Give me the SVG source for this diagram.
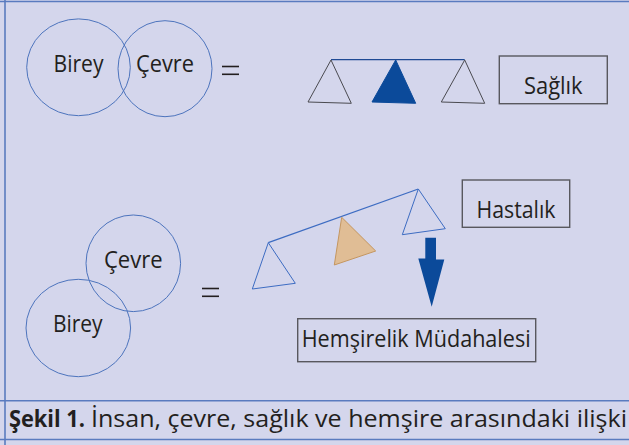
<svg xmlns="http://www.w3.org/2000/svg" width="629" height="445" viewBox="0 0 629 445">
<style>
.circ{fill:none;stroke:#4d74bd;stroke-width:1}
.lbl{font-family:"Open Sans","Liberation Sans",Arial,sans-serif;font-size:23px;fill:#231f20}
.box{fill:none;stroke:#58585e;stroke-width:1.4}
.pan{fill:none;stroke:#4a4a50;stroke-width:1}
.pan2{fill:none;stroke:#3d6cc2;stroke-width:1}
.eq{stroke:#231f20;stroke-width:1.6}
.frame{stroke:#5a7bbf;stroke-width:1.6;fill:none}
</style>
<rect x="0" y="0" width="629" height="445" fill="#d4d6ec"/>
<g id="frame">
<line class="frame" x1="0" y1="1.5" x2="629" y2="1.5" stroke="#3a5ea8"/>
<line class="frame" x1="5" y1="0" x2="5" y2="445"/>
<line class="frame" x1="0" y1="400.7" x2="629" y2="400.7"/>
<line class="frame" x1="0" y1="439.5" x2="629" y2="439.5"/>
</g>
<g id="top-birey">
<ellipse class="circ" cx="78.5" cy="67.3" rx="51.8" ry="48.4"/>
<text class="lbl" x="78.5" y="72" text-anchor="middle" textLength="50" lengthAdjust="spacingAndGlyphs">Birey</text>
</g>
<g id="top-cevre">
<ellipse class="circ" cx="165" cy="68.7" rx="47" ry="48"/>
<text class="lbl" x="165" y="72" text-anchor="middle" textLength="58" lengthAdjust="spacingAndGlyphs">Çevre</text>
</g>
<g id="top-equals">
<line class="eq" x1="222" y1="66.5" x2="239" y2="66.5"/>
<line class="eq" x1="222" y1="74.3" x2="239" y2="74.3"/>
</g>
<g id="balanced-scale">
<line x1="331" y1="59.7" x2="464.7" y2="59.7" stroke="#1f4a94" stroke-width="1.3"/>
<polygon class="pan" points="331,60 308,102 351.3,103.3"/>
<polygon points="395.7,60 372,102 415.7,103.3" fill="#0b4a9a" stroke="#0b4a9a" stroke-width="1"/>
<polygon class="pan" points="464.7,60 441.3,102 484.7,103.3"/>
</g>
<g id="saglik">
<rect class="box" x="499.3" y="56" width="108" height="47.7"/>
<text class="lbl" x="553.3" y="94.3" text-anchor="middle" textLength="58.7" lengthAdjust="spacingAndGlyphs">Sağlık</text>
</g>
<g id="bottom-cevre">
<ellipse class="circ" cx="133.3" cy="263.3" rx="47.3" ry="48.3"/>
<text class="lbl" x="133.3" y="268.3" text-anchor="middle" textLength="58.7" lengthAdjust="spacingAndGlyphs">Çevre</text>
</g>
<g id="bottom-birey">
<ellipse class="circ" cx="78.3" cy="328" rx="52.3" ry="48.7"/>
<text class="lbl" x="77.8" y="331.7" text-anchor="middle" textLength="49.7" lengthAdjust="spacingAndGlyphs">Birey</text>
</g>
<g id="bottom-equals">
<line class="eq" x1="202" y1="288.5" x2="219" y2="288.5"/>
<line class="eq" x1="202" y1="296.3" x2="219" y2="296.3"/>
</g>
<g id="tilted-scale">
<line x1="268.3" y1="242.7" x2="418.3" y2="189" stroke="#3d6cc2" stroke-width="1.3"/>
<polygon class="pan2" points="268.3,242.7 252.3,289 295.3,283.3"/>
<polygon points="341.7,217.3 334.3,265 375.7,251" fill="#e0bd95" stroke="#c49660" stroke-width="1"/>
<polygon class="pan2" points="418.3,189 402.3,234.7 445.3,228.7"/>
</g>
<g id="hastalik">
<rect class="box" x="462.3" y="180" width="107.4" height="47.3"/>
<text class="lbl" x="516" y="218.3" text-anchor="middle" textLength="79" lengthAdjust="spacingAndGlyphs">Hastalık</text>
</g>
<g id="connectors">
<polygon points="425.3,237.7 436,237.7 436,259.5 444.3,259.5 431.7,306.7 418.3,258.5 425.3,258.5" fill="#0b4a9a"/>
</g>
<g id="hemsirelik">
<rect class="box" x="297.7" y="318.7" width="238" height="43"/>
<text class="lbl" x="301.7" y="346.7" textLength="229" lengthAdjust="spacingAndGlyphs">Hemşirelik Müdahalesi</text>
</g>
<g id="caption">
<text class="lbl" x="9" y="426.7" font-weight="bold" textLength="76" lengthAdjust="spacingAndGlyphs">Şekil 1.</text>
<text class="lbl" x="91" y="426.7" textLength="536" lengthAdjust="spacingAndGlyphs">İnsan, çevre, sağlık ve hemşire arasındaki ilişki</text>
</g>
</svg>
